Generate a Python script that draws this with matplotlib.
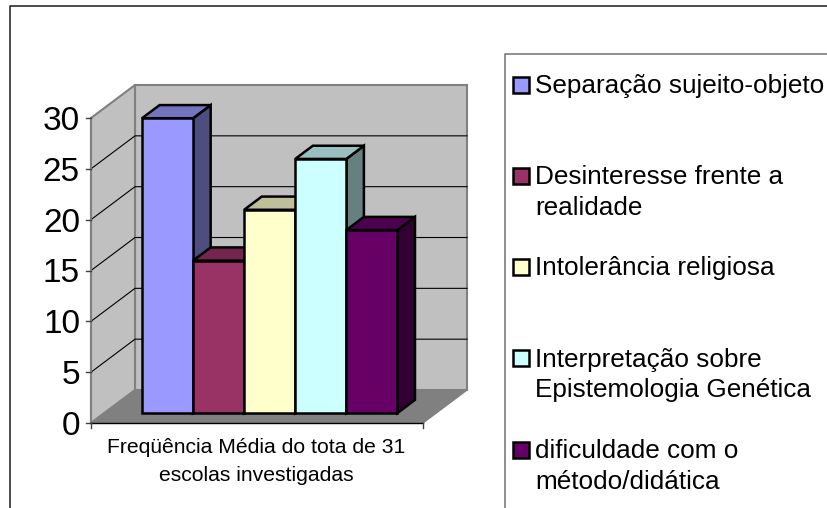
import matplotlib
matplotlib.use('Agg')
import matplotlib.pyplot as plt
from matplotlib.patches import Polygon, Rectangle

plt.rcParams['font.family'] = ['Liberation Sans', 'DejaVu Sans']

# Values
labels = ['Separação sujeito-objeto', 'Desinteresse frente a\nrealidade', 'Intolerância religiosa',
          'Interpretação sobre\nEpistemologia Genética', 'dificuldade com o\nmétodo/didática']
values = [29, 15, 20, 25, 18]
colors = ['#9999FF', '#993366', '#FFFFCC', '#CCFFFF', '#660066']
yticks = [0, 5, 10, 15, 20, 25, 30]
category = 'Freqüência Média do tota de 31\nescolas investigadas'

W, H = 827, 508
DEPTH_X = 44 / 51.08   # oblique shift of the back wall, in category units
DEPTH_Y = 33 / 10.17   # same, in value units


def proj(x, y, z):
    return (x + z * DEPTH_X, y + z * DEPTH_Y)


def shade(color, f):
    rgb = matplotlib.colors.to_rgb(color)
    return tuple(c * f for c in rgb)


fig = plt.figure(figsize=(W / 100, H / 100), dpi=100)

# Outer frame and legend box are drawn in figure pixels
bg = fig.add_axes([0, 0, 1, 1])
bg.set_xlim(0, W)
bg.set_ylim(H, 0)
bg.axis('off')
bg.plot([10, 10, W], [H, 6, 6], color='#1a1a1a', lw=1.1)
bg.plot([505, 505, W], [H, 54, 54], color='#707070', lw=1.1)

# Axes spans the front plane of the 3D box
ax = fig.add_axes([91 / W, 1 - 423 / H, 332 / W, 305 / H])
ax.set_xlim(-0.74, 5.76)
ax.set_ylim(0, 30)
ax.axis('off')
x0, x1 = ax.get_xlim()
top = yticks[-1]

# Walls and floor
wall = dict(closed=True, clip_on=False, zorder=1)
ax.add_patch(Polygon([proj(x0, 0, 1), proj(x1, 0, 1), proj(x1, top, 1), proj(x0, top, 1)],
                     facecolor='#C0C0C0', edgecolor='#808080', lw=1.5, **wall))
ax.add_patch(Polygon([proj(x0, 0, 0), proj(x0, 0, 1), proj(x0, top, 1), proj(x0, top, 0)],
                     facecolor='#C0C0C0', edgecolor='#808080', lw=1.5, **wall))
ax.add_patch(Polygon([proj(x0, 0, 0), proj(x1, 0, 0), proj(x1, 0, 1), proj(x0, 0, 1)],
                     facecolor='#808080', edgecolor='#808080', lw=1, **wall))

# Grid lines on the side wall and back wall
for t in yticks[1:-1]:
    pts = [proj(x0, t, 0), proj(x0, t, 1), proj(x1, t, 1)]
    ax.plot([p[0] for p in pts], [p[1] for p in pts], color='black', lw=0.8, clip_on=False, zorder=2)

# Axis lines, ticks and tick labels
ax.plot([x0, x0], [0, top], color='#808080', lw=1.5, clip_on=False, zorder=3)
ax.plot([x0, x1], [0, 0], color='black', lw=1, clip_on=False, zorder=3)
ax.plot([x1, x1], [0, -0.5], color='#404040', lw=1, clip_on=False, zorder=3)
ax.plot([x0, x0], [0, -0.5], color='#404040', lw=1, clip_on=False, zorder=3)
for t in yticks:
    ax.plot([x0 - 0.1, x0], [t, t], color='#404040', lw=1, clip_on=False, zorder=3)
    ax.annotate(str(t), (x0, t), xytext=(-11, 0), textcoords='offset pixels', ha='right',
                va='center_baseline', fontsize=24, color='black', annotation_clip=False)

# Bars, left to right keeps the overlaps right
z0, z1 = 0.3, 0.7
for i, (v, c) in enumerate(zip(values, colors)):
    l, r = i, i + 1
    style = dict(closed=True, edgecolor='black', lw=1.8, joinstyle='miter', clip_on=False)
    ax.add_patch(Polygon([proj(r, 0, z0), proj(r, 0, z1), proj(r, v, z1), proj(r, v, z0)],
                         facecolor=shade(c, 0.5), zorder=5 + i, **style))
    ax.add_patch(Polygon([proj(l, v, z0), proj(r, v, z0), proj(r, v, z1), proj(l, v, z1)],
                         facecolor=shade(c, 0.75), zorder=5 + i, **style))
    ax.add_patch(Polygon([proj(l, 0, z0), proj(r, 0, z0), proj(r, v, z0), proj(l, v, z0)],
                         facecolor=c, zorder=5 + i, **style))

# Category label, one text per line so the baselines land where they should
for k, line in enumerate(category.split('\n')):
    bg.text(256, 453 + k * 28, line, ha='center', va='baseline', fontsize=15.2)

# Legend by hand, the entries are unevenly spaced multi-line text
legend_y = [85, 176, 267, 358, 450]
for lab, c, y in zip(labels, colors, legend_y):
    bg.add_patch(Rectangle((512.5, y - 8), 16, 16, facecolor=c, edgecolor='black', lw=1.8))
    for k, line in enumerate(lab.split('\n')):
        bg.text(535, y + 8.5 + k * 30.5, line, ha='left', va='baseline', fontsize=18.8, clip_on=False)

fig.savefig('out.png', dpi=100)
